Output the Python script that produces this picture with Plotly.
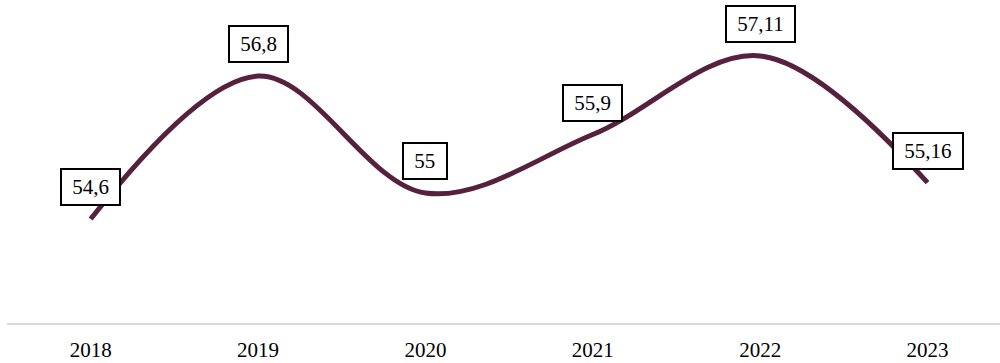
import plotly.graph_objects as go

years = ["2018", "2019", "2020", "2021", "2022", "2023"]
values = [54.6, 56.8, 55.0, 55.9, 57.11, 55.16]
labels = ["54,6", "56,8", "55", "55,9", "57,11", "55,16"]

line_color = "#56203f"
font_family = "Liberation Serif"

fig = go.Figure()
fig.add_trace(go.Scatter(
    x=years, y=values, mode="lines",
    line=dict(color=line_color, width=5, shape="spline", smoothing=1.0),
    hoverinfo="skip", showlegend=False,
))

# category axis: annotation x given as category index
for i, (y, t) in enumerate(zip(values, labels)):
    fig.add_annotation(
        x=i, y=y, xref="x", yref="y",
        text="&nbsp;" + t + "&nbsp;", showarrow=False, yshift=32,
        font=dict(family=font_family, size=21, color="#000000"),
        bgcolor="#ffffff", bordercolor="#000000", borderwidth=2, borderpad=5,
    )

fig.update_layout(
    width=1000, height=363,
    margin=dict(l=7, r=0, t=0, b=40),
    paper_bgcolor="#ffffff", plot_bgcolor="#ffffff",
    xaxis=dict(
        type="category", range=[-0.5, 5.433],
        showgrid=False, zeroline=False,
        showline=True, linecolor="#d9d9d9", linewidth=2,
        ticks="outside", ticklen=7, tickcolor="rgba(0,0,0,0)",
        tickfont=dict(family=font_family, size=21, color="#000000"),
    ),
    yaxis=dict(
        range=[53, 57.97], showgrid=False, zeroline=False,
        showline=False, showticklabels=False,
    ),
)

fig.write_html("out.html")
